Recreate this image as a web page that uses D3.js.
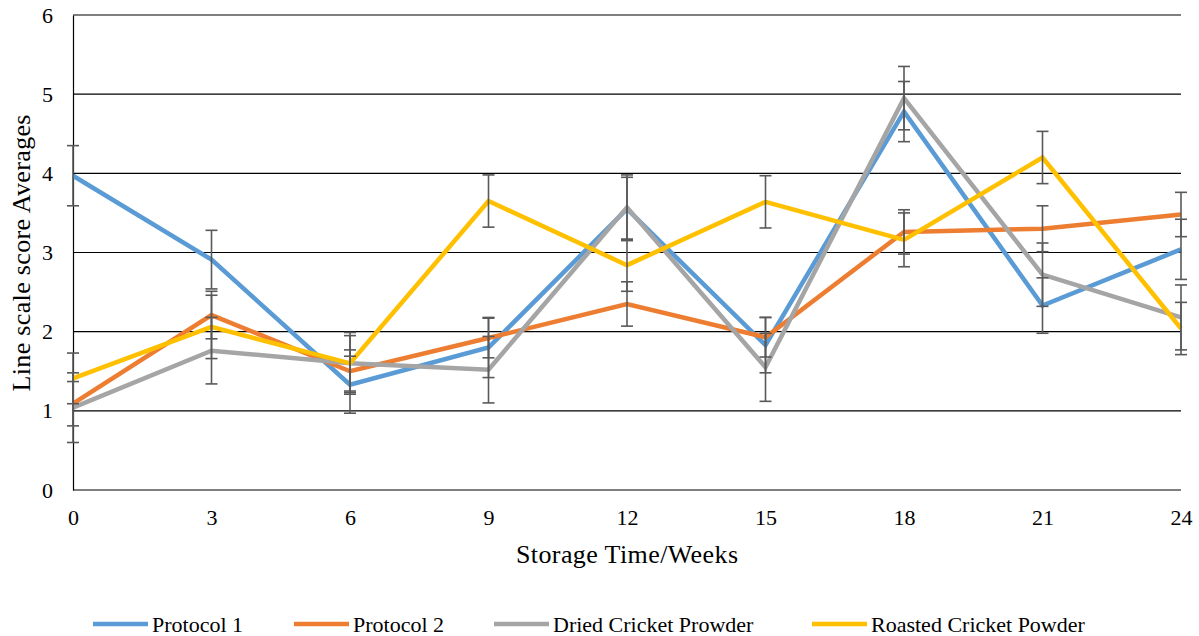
<!DOCTYPE html>
<html>
<head>
<meta charset="utf-8">
<script src="https://cdn.jsdelivr.net/npm/d3@7"></script>
<style>
	body { margin: 0; background: #fff; }
	text { font-family: 'Liberation Serif', 'Times New Roman', serif; fill: #000; }
</style>
</head>
<body>
<script>
const weeks = [0, 3, 6, 9, 12, 15, 18, 21, 24]
const yTicks = [0, 1, 2, 3, 4, 5, 6]

const seriesNames = ['Protocol 1', 'Protocol 2', 'Dried Cricket Prowder', 'Roasted Cricket Powder']
const protocol1 = [3.97, 2.91, 1.33, 1.80, 3.55, 1.83, 4.78, 2.33, 3.04]
const protocol2 = [1.09, 2.21, 1.50, 1.92, 2.35, 1.93, 3.26, 3.30, 3.48]
const dried = [1.04, 1.76, 1.60, 1.52, 3.57, 1.55, 4.95, 2.72, 2.18]
const roasted = [1.41, 2.06, 1.60, 3.65, 2.84, 3.64, 3.16, 4.20, 2.04]

const protocol1Err = [0.38, 0.37, 0.36, 0.38, 0.40, 0.35, 0.38, 0.35, 0.38]
const protocol2Err = [0.28, 0.30, 0.27, 0.25, 0.28, 0.25, 0.28, 0.29, 0.28]
const driedErr = [0.44, 0.42, 0.39, 0.42, 0.41, 0.43, 0.40, 0.40, 0.41]
const roastedErr = [0.32, 0.40, 0.35, 0.33, 0.33, 0.33, 0.34, 0.33, 0.33]

const colors = ['#5B9BD5', '#ED7D31', '#A5A5A5', '#FFC000']

const series = [
	{name: seriesNames[0], values: protocol1, err: protocol1Err, color: colors[0]},
	{name: seriesNames[1], values: protocol2, err: protocol2Err, color: colors[1]},
	{name: seriesNames[2], values: dried, err: driedErr, color: colors[2]},
	{name: seriesNames[3], values: roasted, err: roastedErr, color: colors[3]},
]

const W = 1199, H = 636
const margin = {top: 15, right: 18, bottom: 146, left: 73}
const width = W - margin.left - margin.right
const height = H - margin.top - margin.bottom

const svg = d3.select('body').append('svg')
	.attr('width', W)
	.attr('height', H)

const g = svg.append('g')
	.attr('transform', `translate(${margin.left},${margin.top})`)

const x = d3.scaleLinear().domain([0, 24]).range([0, width])
const y = d3.scaleLinear().domain([0, 6]).range([height, 0])

// gridlines
g.append('g')
	.selectAll('line')
	.data(yTicks)
	.join('line')
		.attr('x1', 0)
		.attr('x2', width)
		.attr('y1', d => y(d))
		.attr('y2', d => y(d))
		.attr('stroke', '#000')
		.attr('stroke-width', 1.2)

// y axis
const yAxis = g.append('g')
	.call(d3.axisLeft(y).tickValues(yTicks).tickSize(0).tickPadding(20).tickFormat(d3.format('d')))
yAxis.select('.domain').attr('stroke', '#000').attr('stroke-width', 1.2)
yAxis.selectAll('text').style('font-size', '22px').style('font-family', 'Liberation Serif')

// x axis
const xAxis = g.append('g')
	.attr('transform', `translate(0,${height})`)
	.call(d3.axisBottom(x).tickValues(weeks).tickSize(0).tickPadding(19).tickFormat(d3.format('d')))
xAxis.select('.domain').remove()
xAxis.selectAll('text').style('font-size', '22px').style('font-family', 'Liberation Serif')

// lines
const line = d3.line()
	.x((d, i) => x(weeks[i]))
	.y(d => y(d))

series.forEach(s => {
	g.append('path')
		.datum(s.values)
		.attr('fill', 'none')
		.attr('stroke', s.color)
		.attr('stroke-width', 4.5)
		.attr('stroke-linejoin', 'miter')
		.attr('d', line)
})

// error bars
const cap = 6
series.forEach(s => {
	const eb = g.append('g').attr('stroke', '#595959').attr('stroke-width', 1.6)
	s.values.forEach((v, i) => {
		const cx = x(weeks[i])
		const top = y(v + s.err[i])
		const bot = y(Math.max(0, v - s.err[i]))
		eb.append('line').attr('x1', cx).attr('x2', cx).attr('y1', top).attr('y2', bot)
		eb.append('line').attr('x1', cx - cap).attr('x2', cx + cap).attr('y1', top).attr('y2', top)
		eb.append('line').attr('x1', cx - cap).attr('x2', cx + cap).attr('y1', bot).attr('y2', bot)
	})
})

// axis titles
svg.append('text')
	.attr('x', 627)
	.attr('y', 563)
	.attr('text-anchor', 'middle')
	.style('font-size', '26px')
	.attr('textLength', 222)
	.text('Storage Time/Weeks')

svg.append('text')
	.attr('transform', `translate(30,253) rotate(-90)`)
	.attr('text-anchor', 'middle')
	.style('font-size', '26px')
	.attr('textLength', 277)
	.text('Line scale score Averages')

// legend
const legendX = [93, 294, 494, 812]
const legend = svg.append('g')
	.selectAll('g')
	.data(series)
	.join('g')
		.attr('transform', (d, i) => `translate(${legendX[i]},624)`)

legend.append('line')
	.attr('x1', 0).attr('x2', 55)
	.attr('stroke', d => d.color)
	.attr('stroke-width', 4.5)

legend.append('text')
	.attr('x', 59)
	.attr('dy', '0.35em')
	.style('font-size', '22px')
	.text(d => d.name)
</script>
</body>
</html>
